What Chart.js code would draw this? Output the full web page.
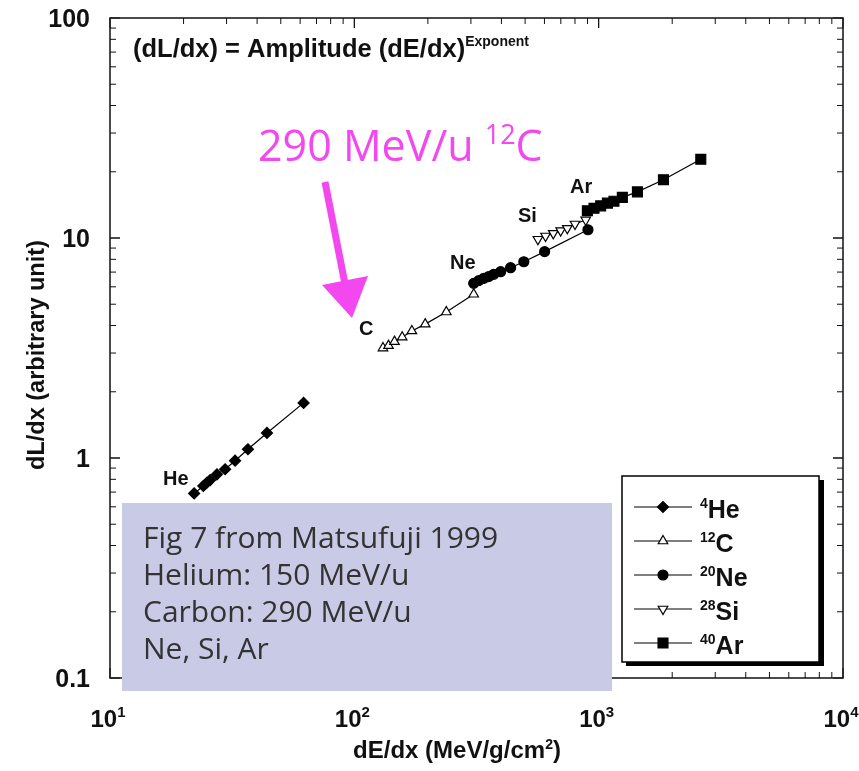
<!DOCTYPE html>
<html>
<head>
<meta charset="utf-8">
<script src="https://cdn.jsdelivr.net/npm/chart.js@4.4.0/dist/chart.umd.min.js"></script>
<style>
  html, body { margin: 0; padding: 0; background: #fff; }
  #wrap { width: 859px; height: 771px; position: relative; }
</style>
</head>
<body>
<div id="wrap"><canvas id="myChart" width="859" height="771"></canvas></div>
<script>
// values (dE/dx in MeV/g/cm2, dL/dx arbitrary unit)
const heX = [22.1, 24.1, 24.9, 25.7, 27.4, 29.6, 32.5, 36.7, 43.9, 62.0];
const heY = [0.69, 0.746, 0.772, 0.794, 0.843, 0.889, 0.972, 1.096, 1.30, 1.78];
const cX = [131, 138, 146, 157, 172, 195, 238, 308];
const cY = [3.16, 3.24, 3.38, 3.54, 3.78, 4.06, 4.61, 5.55];
const neX = [308, 323, 339, 355, 372, 397, 436, 494, 601, 904];
const neY = [6.22, 6.40, 6.56, 6.68, 6.84, 7.03, 7.33, 7.80, 8.67, 10.9];
const siX = [564, 606, 652, 699, 744, 800, 885];
const siY = [9.87, 10.21, 10.50, 10.80, 11.07, 11.58, 12.08];
const arX = [899, 957, 1019, 1086, 1155, 1250, 1441, 1841, 2618];
const arY = [13.3, 13.65, 14.0, 14.4, 14.7, 15.3, 16.2, 18.4, 22.8];

const xTickValues = [10, 100, 1000, 10000];
const xTickExp = ['1', '2', '3', '4'];
const yTickValues = [0.1, 1, 10, 100];
const yTickLabels = ['0.1', '1', '10', '100'];

const speciesNames = ['He', 'C', 'Ne', 'Si', 'Ar'];
const speciesMass = ['4', '12', '20', '28', '40'];
const boxLines = ['Fig 7 from Matsufuji 1999', 'Helium: 150 MeV/u', 'Carbon: 290 MeV/u', 'Ne, Si, Ar'];

const FONT = '"Liberation Sans", Arial, Helvetica, sans-serif';
const SOFT = '"Open Sans", "Noto Sans", sans-serif';
const MAGENTA = '#f348ef';

function pts(xs, ys) { return xs.map((x, i) => ({ x: x, y: ys[i] })); }

const markerStyles = [
  { pointStyle: 'rectRot', radius: 5.5, fill: '#000', rotation: 0 },
  { pointStyle: 'triangle', radius: 5.5, fill: '#fff', rotation: 0 },
  { pointStyle: 'circle', radius: 5, fill: '#000', rotation: 0 },
  { pointStyle: 'triangle', radius: 5.5, fill: '#fff', rotation: 180 },
  { pointStyle: 'rect', radius: 7, fill: '#000', rotation: 0 }
];
const seriesData = [pts(heX, heY), pts(cX, cY), pts(neX, neY), pts(siX, siY), pts(arX, arY)];

const datasets = seriesData.map((d, i) => ({
  label: speciesNames[i],
  data: d,
  showLine: true,
  borderColor: '#000',
  borderWidth: 1.2,
  pointStyle: markerStyles[i].pointStyle,
  pointRadius: markerStyles[i].radius,
  pointRotation: markerStyles[i].rotation,
  pointBackgroundColor: markerStyles[i].fill,
  pointBorderColor: '#000',
  pointBorderWidth: 1.2
}));

// draws text with superscripts; parts = [text, size, raise, family, weight]
function richText(ctx, parts, x, y, align) {
  let total = 0;
  parts.forEach(p => { ctx.font = (p[4] || 'bold') + ' ' + p[1] + 'px ' + (p[3] || FONT); total += ctx.measureText(p[0]).width; });
  let cx = align === 'center' ? x - total / 2 : (align === 'right' ? x - total : x);
  ctx.textAlign = 'left';
  ctx.textBaseline = 'alphabetic';
  parts.forEach(p => {
    ctx.font = (p[4] || 'bold') + ' ' + p[1] + 'px ' + (p[3] || FONT);
    ctx.fillText(p[0], cx, y - p[2]);
    cx += ctx.measureText(p[0]).width;
  });
}

const framePlugin = {
  id: 'frame',
  beforeDatasetsDraw(chart) {
    const ctx = chart.ctx, a = chart.chartArea;
    const xs = chart.scales.x, ys = chart.scales.y;
    ctx.save();
    ctx.strokeStyle = '#111';
    ctx.lineWidth = 1.5;
    ctx.strokeRect(a.left, a.top, a.right - a.left, a.bottom - a.top);
    ctx.lineWidth = 1;
    // log ticks on all four sides, pointing inward
    for (let dec = 10; dec < 10000; dec *= 10) {
      for (let m = 1; m <= 10; m++) {
        const px = xs.getPixelForValue(dec * m);
        const len = (m === 1 || m === 10) ? 10 : 6;
        ctx.beginPath();
        ctx.moveTo(px, a.bottom); ctx.lineTo(px, a.bottom - len);
        ctx.moveTo(px, a.top); ctx.lineTo(px, a.top + len);
        ctx.stroke();
      }
    }
    for (let dec = 0.1; dec < 99; dec *= 10) {
      for (let m = 1; m <= 10; m++) {
        const py = ys.getPixelForValue(dec * m);
        const len = (m === 1 || m === 10) ? 10 : 6;
        ctx.beginPath();
        ctx.moveTo(a.left, py); ctx.lineTo(a.left + len, py);
        ctx.moveTo(a.right, py); ctx.lineTo(a.right - len, py);
        ctx.stroke();
      }
    }
    ctx.fillStyle = '#111';
    // tick labels
    yTickValues.forEach((v, i) => {
      const py = ys.getPixelForValue(v);
      richText(ctx, [[yTickLabels[i], 25, 0]], 90, py + 9, 'right');
    });
    xTickValues.forEach((v, i) => {
      const px = xs.getPixelForValue(v);
      richText(ctx, [['10', 24, 0], [xTickExp[i], 15, 10]], px - 2, 727, 'center');
    });
    // axis titles
    richText(ctx, [['dE/dx (MeV/g/cm', 24, 0], ['2', 14, 9], [')', 24, 0]], 457, 758, 'center');
    ctx.save();
    ctx.translate(44, 355);
    ctx.rotate(-Math.PI / 2);
    richText(ctx, [['dL/dx (arbitrary unit)', 23.5, 0]], 0, 0, 'center');
    ctx.restore();
    ctx.restore();
  },
  afterDatasetsDraw(chart) {
    const ctx = chart.ctx;
    ctx.save();
    ctx.fillStyle = '#111';
    // formula
    richText(ctx, [['(dL/dx) = Amplitude (dE/dx)', 25.5, 0], ['Exponent', 14, 11]], 133, 57, 'left');
    // species labels
    richText(ctx, [['He', 20, 0]], 163, 485, 'left');
    richText(ctx, [['C', 20, 0]], 359, 335, 'left');
    richText(ctx, [['Ne', 20, 0]], 450, 269, 'left');
    richText(ctx, [['Si', 20, 0]], 518, 222, 'left');
    richText(ctx, [['Ar', 20, 0]], 570, 193, 'left');

    // lavender note box
    ctx.fillStyle = '#c9cbe6';
    ctx.fillRect(122, 503, 490, 188);
    ctx.fillStyle = '#333';
    boxLines.forEach((t, i) => {
      richText(ctx, [[t, 30, 0, SOFT, 'normal']], 143, 548 + i * 37, 'left');
    });

    // legend box with shadow
    ctx.fillStyle = '#000';
    ctx.fillRect(626, 480, 198, 186);
    ctx.fillStyle = '#fff';
    ctx.fillRect(622, 476, 197, 186);
    ctx.strokeStyle = '#000';
    ctx.lineWidth = 1.5;
    ctx.strokeRect(622, 476, 197, 186);
    chart.data.datasets.forEach((ds, i) => {
      const y = 507 + i * 34;
      ctx.strokeStyle = '#000';
      ctx.lineWidth = 1.2;
      ctx.beginPath();
      ctx.moveTo(634, y); ctx.lineTo(692, y);
      ctx.stroke();
      ctx.fillStyle = ds.pointBackgroundColor;
      Chart.helpers.drawPoint(ctx, {
        pointStyle: ds.pointStyle, radius: ds.pointRadius, rotation: ds.pointRotation, borderWidth: ds.pointBorderWidth
      }, 663, y);
      ctx.fillStyle = '#111';
      richText(ctx, [[speciesMass[i], 14, 10], [speciesNames[i], 25, 0]], 700, y + 11, 'left');
    });

    // magenta annotation
    ctx.fillStyle = MAGENTA;
    richText(ctx, [['290 MeV/u ', 43, 0, SOFT, 'normal'],
                   ['12', 27, 17, SOFT, 'normal'],
                   ['C', 43, 0, SOFT, 'normal']], 258, 161, 'left');
    ctx.strokeStyle = MAGENTA;
    ctx.lineWidth = 7;
    ctx.beginPath();
    ctx.moveTo(325, 182);
    ctx.lineTo(345, 284);
    ctx.stroke();
    ctx.beginPath();
    ctx.moveTo(352, 318);
    ctx.lineTo(322, 285);
    ctx.lineTo(368, 276);
    ctx.closePath();
    ctx.fill();
    ctx.restore();
  }
};

const ctx = document.getElementById('myChart').getContext('2d');
const myChart = new Chart(ctx, {
  type: 'scatter',
  data: { datasets: datasets },
  options: {
    responsive: false,
    animation: false,
    layout: { padding: { left: 110, top: 18, right: 16, bottom: 93 } },
    scales: {
      x: { type: 'logarithmic', min: 10, max: 10000, display: false },
      y: { type: 'logarithmic', min: 0.1, max: 100, display: false }
    },
    plugins: { legend: { display: false }, tooltip: { enabled: false } }
  },
  plugins: [framePlugin]
});
</script>
</body>
</html>
